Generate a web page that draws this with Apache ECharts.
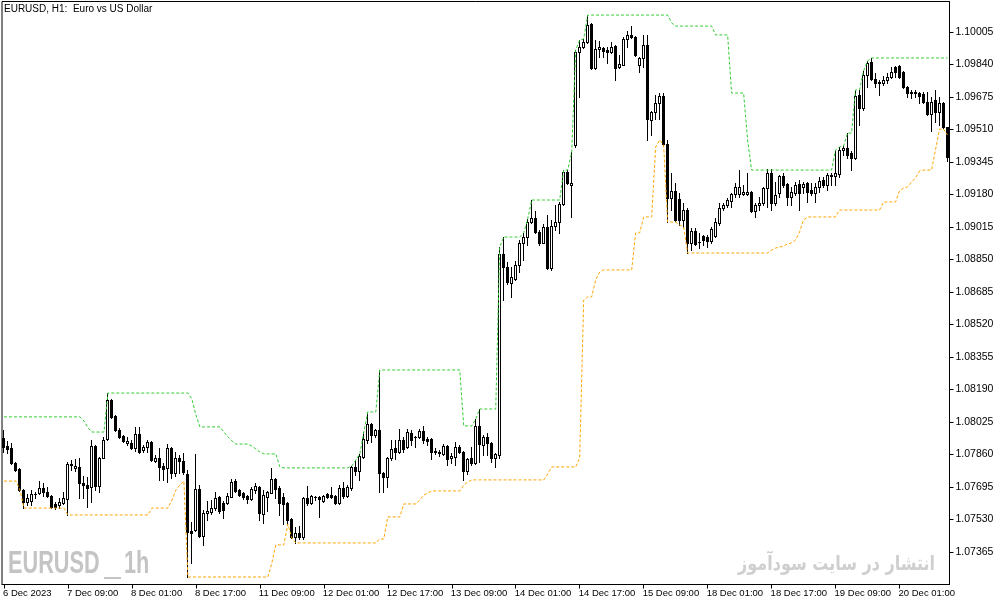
<!DOCTYPE html>
<html><head><meta charset="utf-8">
<script src="https://cdn.jsdelivr.net/npm/echarts@6/dist/echarts.min.js"></script>
<style>html,body{margin:0;padding:0;background:#fff}#c{width:1003px;height:605px}</style>
</head><body><div id="c"></div>
<script>
const tickLabels = ['6 Dec 2023','7 Dec 09:00','8 Dec 01:00','8 Dec 17:00','11 Dec 09:00','12 Dec 01:00','12 Dec 17:00','13 Dec 09:00','14 Dec 01:00','14 Dec 17:00','15 Dec 09:00','18 Dec 01:00','18 Dec 17:00','19 Dec 09:00','20 Dec 01:00'];
const priceTicks = [1.07365,1.07530,1.07695,1.07860,1.08025,1.08190,1.08355,1.08520,1.08685,1.08850,1.09015,1.09180,1.09345,1.09510,1.09675,1.09840,1.10005];

const open = [
1.07944,1.07903,1.07893,1.07817,1.07786,1.07680,1.07619,1.07624,1.07659,1.07664,
1.07690,1.07670,1.07649,1.07609,1.07604,1.07614,1.07634,1.07812,1.07792,1.07797,
1.07715,1.07705,1.07695,1.07903,1.07700,1.07842,1.07939,1.08137,1.08056,1.07984,
1.07954,1.07918,1.07918,1.07893,1.07964,1.07883,1.07898,1.07924,1.07827,1.07842,
1.07802,1.07792,1.07893,1.07766,1.07842,1.07827,1.07761,1.07472,1.07477,1.07685,
1.07447,1.07563,1.07568,1.07588,1.07644,1.07614,1.07614,1.07644,1.07725,1.07680,
1.07664,1.07649,1.07634,1.07680,1.07695,1.07558,1.07644,1.07664,1.07736,1.07690,
1.07644,1.07614,1.07533,1.07441,1.07462,1.07441,1.07639,1.07614,1.07644,1.07644,
1.07624,1.07659,1.07654,1.07649,1.07614,1.07690,1.07649,1.07690,1.07797,1.07776,
1.07847,1.07934,1.08015,1.07959,1.07984,1.07766,1.07746,1.07842,1.07893,1.07873,
1.07934,1.07898,1.07969,1.07949,1.07949,1.07979,1.07939,1.07939,1.07878,1.07873,
1.07863,1.07903,1.07842,1.07847,1.07898,1.07873,1.07776,1.07842,1.07817,1.08005,
1.07908,1.07949,1.07918,1.07842,1.07858,1.08878,1.08812,1.08731,1.08751,1.08822,
1.08934,1.08964,1.09040,1.09061,1.08990,1.08934,1.09015,1.08807,1.09020,1.09040,
1.09132,1.09294,1.09228,1.09431,1.09903,1.09929,1.09954,1.10046,1.09822,1.09919,
1.09924,1.09914,1.09903,1.09934,1.09827,1.09838,1.09970,1.09990,1.09980,1.09838,
1.09873,1.09939,1.09558,1.09599,1.09645,1.09680,1.09436,1.09162,1.09198,1.09157,
1.09051,1.09101,1.08934,1.08995,1.08939,1.08969,1.08964,1.08944,1.08969,1.09035,
1.09112,1.09127,1.09147,1.09183,1.09183,1.09183,1.09183,1.09193,1.09096,1.09127,
1.09137,1.09213,1.09289,1.09137,1.09188,1.09274,1.09233,1.09167,1.09188,1.09233,
1.09218,1.09238,1.09203,1.09188,1.09218,1.09254,1.09228,1.09279,1.09274,1.09284,
1.09406,1.09416,1.09391,1.09365,1.09685,1.09619,1.09787,1.09853,1.09766,1.09751,
1.09746,1.09761,1.09776,1.09827,1.09832,1.09802,1.09726,1.09700,1.09700,1.09695,
1.09690,1.09650,1.09589,1.09660,1.09599,1.09645,1.09523];

const close = [
1.07898,1.07888,1.07817,1.07781,1.07680,1.07619,1.07639,1.07659,1.07657,1.07690,
1.07670,1.07649,1.07594,1.07594,1.07619,1.07639,1.07812,1.07807,1.07802,1.07715,
1.07705,1.07690,1.07903,1.07700,1.07842,1.07934,1.08137,1.08051,1.07984,1.07949,
1.07929,1.07929,1.07893,1.07964,1.07873,1.07898,1.07924,1.07832,1.07842,1.07797,
1.07786,1.07893,1.07766,1.07842,1.07827,1.07771,1.07467,1.07462,1.07685,1.07447,
1.07563,1.07573,1.07588,1.07639,1.07573,1.07578,1.07649,1.07720,1.07675,1.07654,
1.07644,1.07634,1.07685,1.07700,1.07563,1.07654,1.07670,1.07736,1.07685,1.07614,
1.07609,1.07528,1.07441,1.07462,1.07441,1.07639,1.07614,1.07649,1.07643,1.07634,
1.07649,1.07644,1.07644,1.07614,1.07690,1.07649,1.07695,1.07797,1.07776,1.07852,
1.07939,1.08015,1.07959,1.07984,1.07766,1.07746,1.07842,1.07888,1.07873,1.07934,
1.07888,1.07974,1.07934,1.07947,1.07979,1.07934,1.07929,1.07873,1.07873,1.07868,
1.07903,1.07837,1.07852,1.07898,1.07873,1.07776,1.07837,1.07817,1.08005,1.07913,
1.07949,1.07918,1.07842,1.07863,1.08878,1.08812,1.08736,1.08761,1.08822,1.08934,
1.08964,1.09040,1.09061,1.08990,1.08934,1.09015,1.08807,1.09020,1.09040,1.09132,
1.09294,1.09238,1.09238,1.09903,1.09929,1.09954,1.10041,1.09822,1.09919,1.09929,
1.09909,1.09903,1.09929,1.09822,1.09843,1.09970,1.09990,1.09980,1.09888,1.09873,
1.09939,1.09563,1.09599,1.09645,1.09680,1.09436,1.09162,1.09198,1.09051,1.09051,
1.09101,1.08934,1.08995,1.08929,1.08937,1.08949,1.08944,1.09005,1.09040,1.09112,
1.09127,1.09152,1.09183,1.09218,1.09218,1.09193,1.09193,1.09096,1.09127,1.09137,
1.09213,1.09289,1.09137,1.09178,1.09274,1.09228,1.09167,1.09193,1.09228,1.09188,
1.09233,1.09193,1.09188,1.09218,1.09249,1.09228,1.09279,1.09274,1.09289,1.09406,
1.09416,1.09381,1.09365,1.09680,1.09619,1.09787,1.09848,1.09766,1.09746,1.09746,
1.09761,1.09776,1.09802,1.09802,1.09776,1.09726,1.09695,1.09695,1.09695,1.09680,
1.09650,1.09589,1.09650,1.09599,1.09645,1.09523,1.09370];

const low = [
1.07873,1.07868,1.07812,1.07776,1.07675,1.07588,1.07604,1.07604,1.07639,1.07659,
1.07649,1.07644,1.07588,1.07583,1.07588,1.07609,1.07553,1.07781,1.07776,1.07639,
1.07639,1.07594,1.07619,1.07680,1.07670,1.07842,1.07934,1.08046,1.07979,1.07944,
1.07924,1.07908,1.07888,1.07878,1.07868,1.07873,1.07873,1.07827,1.07822,1.07731,
1.07731,1.07720,1.07741,1.07751,1.07766,1.07761,1.07238,1.07309,1.07472,1.07441,
1.07401,1.07528,1.07558,1.07578,1.07563,1.07538,1.07609,1.07644,1.07670,1.07649,
1.07634,1.07614,1.07629,1.07664,1.07528,1.07512,1.07573,1.07664,1.07639,1.07553,
1.07507,1.07507,1.07436,1.07411,1.07431,1.07431,1.07604,1.07609,1.07629,1.07543,
1.07619,1.07639,1.07639,1.07609,1.07609,1.07639,1.07644,1.07680,1.07756,1.07731,
1.07842,1.07918,1.07924,1.07949,1.07670,1.07670,1.07695,1.07832,1.07837,1.07868,
1.07873,1.07893,1.07908,1.07898,1.07944,1.07918,1.07908,1.07837,1.07863,1.07852,
1.07858,1.07807,1.07817,1.07807,1.07868,1.07731,1.07761,1.07807,1.07812,1.07822,
1.07857,1.07857,1.07822,1.07797,1.07842,1.08644,1.08726,1.08660,1.08746,1.08786,
1.08848,1.08924,1.09035,1.08985,1.08924,1.08934,1.08802,1.08797,1.09000,1.08985,
1.09127,1.09233,1.09066,1.09421,1.09675,1.09924,1.09949,1.09817,1.09817,1.09878,
1.09878,1.09848,1.09898,1.09761,1.09822,1.09838,1.09929,1.09975,1.09883,1.09802,
1.09827,1.09457,1.09482,1.09563,1.09563,1.09431,1.09040,1.09101,1.09046,1.09025,
1.09015,1.08883,1.08898,1.08924,1.08908,1.08924,1.08913,1.08934,1.08964,1.09025,
1.09101,1.09117,1.09117,1.09167,1.09167,1.09178,1.09178,1.09091,1.09066,1.09101,
1.09127,1.09117,1.09101,1.09127,1.09167,1.09218,1.09127,1.09127,1.09178,1.09101,
1.09188,1.09142,1.09178,1.09142,1.09193,1.09218,1.09203,1.09228,1.09228,1.09269,
1.09381,1.09365,1.09304,1.09360,1.09533,1.09609,1.09726,1.09761,1.09726,1.09685,
1.09736,1.09746,1.09771,1.09776,1.09771,1.09721,1.09675,1.09670,1.09675,1.09645,
1.09645,1.09584,1.09502,1.09548,1.09533,1.09518,1.09350];

const high = [
1.07984,1.07929,1.07918,1.07822,1.07791,1.07685,1.07659,1.07680,1.07670,1.07725,
1.07715,1.07695,1.07654,1.07619,1.07639,1.07670,1.07822,1.07832,1.07837,1.07842,
1.07751,1.07746,1.07934,1.07908,1.07847,1.07949,1.08172,1.08142,1.08061,1.07995,
1.07959,1.07949,1.07934,1.08000,1.08000,1.07908,1.07934,1.07929,1.07857,1.07893,
1.07817,1.07913,1.07898,1.07873,1.07857,1.07868,1.07781,1.07517,1.07863,1.07705,
1.07578,1.07624,1.07629,1.07670,1.07649,1.07624,1.07664,1.07736,1.07736,1.07685,
1.07670,1.07654,1.07695,1.07715,1.07700,1.07680,1.07675,1.07791,1.07741,1.07700,
1.07664,1.07619,1.07538,1.07492,1.07497,1.07644,1.07700,1.07654,1.07649,1.07649,
1.07654,1.07664,1.07695,1.07654,1.07705,1.07720,1.07705,1.07802,1.07832,1.07863,
1.07974,1.08076,1.08020,1.07990,1.08289,1.07771,1.07847,1.07934,1.07934,1.07990,
1.07949,1.07990,1.07984,1.07954,1.07990,1.08005,1.07949,1.07944,1.07893,1.07883,
1.07913,1.07908,1.07868,1.07924,1.07908,1.07878,1.07842,1.07898,1.08040,1.08091,
1.07959,1.07969,1.07924,1.07868,1.08914,1.08964,1.08837,1.08812,1.08842,1.08949,
1.08985,1.09056,1.09152,1.09096,1.09000,1.09030,1.09076,1.09051,1.09127,1.09142,
1.09304,1.09304,1.09396,1.09914,1.09964,1.09970,1.10091,1.10051,1.09964,1.09959,
1.09929,1.09929,1.09954,1.09939,1.09888,1.09980,1.10010,1.10035,1.09985,1.09878,
1.09990,1.09990,1.09604,1.09685,1.09695,1.09695,1.09457,1.09289,1.09238,1.09188,
1.09137,1.09112,1.09010,1.09010,1.08985,1.08974,1.08974,1.09015,1.09061,1.09137,
1.09137,1.09162,1.09188,1.09238,1.09304,1.09228,1.09289,1.09198,1.09137,1.09167,
1.09218,1.09309,1.09309,1.09243,1.09279,1.09289,1.09238,1.09218,1.09243,1.09254,
1.09243,1.09243,1.09238,1.09238,1.09269,1.09269,1.09289,1.09289,1.09406,1.09421,
1.09426,1.09492,1.09401,1.09711,1.09711,1.09807,1.09858,1.09873,1.09797,1.09761,
1.09782,1.09797,1.09827,1.09832,1.09838,1.09807,1.09731,1.09711,1.09711,1.09700,
1.09700,1.09700,1.09675,1.09711,1.09675,1.09650,1.09523];

const upperBand = [
1.08051,1.08051,1.08051,1.08051,1.08051,1.08051,1.08051,1.08051,1.08051,1.08051,
1.08051,1.08051,1.08051,1.08051,1.08051,1.08051,1.08051,1.08051,1.08051,1.08051,
1.08030,1.07995,1.07974,1.07974,1.07974,1.07974,1.08172,1.08172,1.08172,1.08172,
1.08172,1.08172,1.08172,1.08172,1.08172,1.08172,1.08172,1.08172,1.08172,1.08172,
1.08172,1.08172,1.08172,1.08172,1.08172,1.08172,1.08172,1.08142,1.08061,1.08000,
1.08000,1.08000,1.08000,1.08000,1.08000,1.07974,1.07949,1.07929,1.07913,1.07913,
1.07913,1.07913,1.07903,1.07888,1.07873,1.07863,1.07863,1.07863,1.07863,1.07797,
1.07792,1.07792,1.07792,1.07792,1.07792,1.07792,1.07792,1.07792,1.07792,1.07792,
1.07792,1.07792,1.07792,1.07792,1.07792,1.07792,1.07792,1.07802,1.07832,1.07863,
1.07974,1.08076,1.08076,1.08076,1.08289,1.08289,1.08289,1.08289,1.08289,1.08289,
1.08289,1.08289,1.08289,1.08289,1.08289,1.08289,1.08289,1.08289,1.08289,1.08289,
1.08289,1.08289,1.08289,1.08289,1.08289,1.08005,1.08005,1.08005,1.08040,1.08091,
1.08091,1.08091,1.08091,1.08091,1.08914,1.08964,1.08964,1.08964,1.08964,1.08964,
1.08985,1.09056,1.09152,1.09152,1.09152,1.09152,1.09152,1.09152,1.09152,1.09152,
1.09304,1.09304,1.09396,1.09914,1.09964,1.09970,1.10091,1.10091,1.10091,1.10091,
1.10091,1.10091,1.10091,1.10091,1.10091,1.10091,1.10091,1.10091,1.10091,1.10091,
1.10091,1.10091,1.10091,1.10091,1.10091,1.10091,1.10091,1.10051,1.10035,1.10035,
1.10035,1.10035,1.10035,1.10035,1.10035,1.10035,1.10035,1.10035,1.09990,1.09990,
1.09990,1.09990,1.09695,1.09695,1.09695,1.09695,1.09457,1.09304,1.09304,1.09304,
1.09304,1.09304,1.09304,1.09304,1.09304,1.09304,1.09304,1.09304,1.09304,1.09304,
1.09304,1.09304,1.09304,1.09304,1.09304,1.09304,1.09304,1.09304,1.09406,1.09421,
1.09426,1.09492,1.09492,1.09711,1.09711,1.09807,1.09858,1.09873,1.09873,1.09873,
1.09873,1.09873,1.09873,1.09873,1.09873,1.09873,1.09873,1.09873,1.09873,1.09873,
1.09873,1.09873,1.09873,1.09873,1.09873,1.09873,1.09873];

const lowerBand = [
1.07725,1.07725,1.07725,1.07725,1.07680,1.07588,1.07588,1.07588,1.07588,1.07588,
1.07588,1.07588,1.07588,1.07588,1.07588,1.07588,1.07553,1.07553,1.07553,1.07553,
1.07553,1.07553,1.07553,1.07553,1.07553,1.07553,1.07553,1.07553,1.07553,1.07553,
1.07553,1.07553,1.07553,1.07553,1.07553,1.07553,1.07553,1.07588,1.07588,1.07588,
1.07588,1.07588,1.07629,1.07680,1.07705,1.07725,1.07238,1.07238,1.07238,1.07238,
1.07238,1.07238,1.07238,1.07238,1.07238,1.07238,1.07238,1.07238,1.07238,1.07238,
1.07238,1.07238,1.07238,1.07238,1.07238,1.07238,1.07238,1.07309,1.07401,1.07401,
1.07401,1.07507,1.07436,1.07411,1.07411,1.07411,1.07411,1.07411,1.07411,1.07411,
1.07411,1.07411,1.07411,1.07411,1.07411,1.07411,1.07411,1.07411,1.07411,1.07411,
1.07411,1.07411,1.07411,1.07411,1.07431,1.07431,1.07543,1.07543,1.07543,1.07543,
1.07609,1.07609,1.07609,1.07609,1.07629,1.07654,1.07664,1.07675,1.07675,1.07675,
1.07675,1.07675,1.07675,1.07675,1.07675,1.07705,1.07720,1.07731,1.07731,1.07731,
1.07731,1.07731,1.07731,1.07731,1.07731,1.07731,1.07731,1.07731,1.07731,1.07731,
1.07731,1.07731,1.07731,1.07731,1.07731,1.07731,1.07761,1.07797,1.07797,1.07797,
1.07797,1.07797,1.07797,1.07797,1.07842,1.08644,1.08660,1.08660,1.08746,1.08786,
1.08797,1.08797,1.08797,1.08797,1.08797,1.08797,1.08797,1.08797,1.08985,1.08985,
1.09066,1.09066,1.09066,1.09421,1.09457,1.09431,1.09040,1.09040,1.09040,1.09025,
1.09015,1.08883,1.08883,1.08883,1.08883,1.08883,1.08883,1.08883,1.08883,1.08883,
1.08883,1.08883,1.08883,1.08883,1.08883,1.08883,1.08883,1.08883,1.08883,1.08883,
1.08883,1.08883,1.08898,1.08908,1.08913,1.08918,1.08929,1.08934,1.08949,1.08990,
1.09051,1.09066,1.09066,1.09066,1.09066,1.09066,1.09066,1.09066,1.09066,1.09101,
1.09101,1.09101,1.09101,1.09101,1.09101,1.09101,1.09101,1.09101,1.09101,1.09101,
1.09142,1.09142,1.09142,1.09142,1.09198,1.09213,1.09218,1.09243,1.09264,1.09299,
1.09304,1.09304,1.09304,1.09406,1.09512,1.09512,1.09482];

// hourly bar times (broker time, weekends closed), starting 6 Dec 2023 17:00
const MONTHS = ['Jan','Feb','Mar','Apr','May','Jun','Jul','Aug','Sep','Oct','Nov','Dec'];
const categories = [];
(function(){
  let t = Date.UTC(2023, 11, 6, 17);
  while (categories.length < open.length) {
    const d = new Date(t);
    const wd = d.getUTCDay();
    if (wd !== 0 && wd !== 6) {
      categories.push(d.getUTCDate() + ' ' + MONTHS[d.getUTCMonth()] + ' ' + String(d.getUTCHours()).padStart(2,'0') + ':00');
    }
    t += 3600000;
  }
})();

const ohlc = open.map((o, i) => [i, o, close[i], low[i], high[i]]);

function renderCandle(params, api) {
  const i = api.value(0);
  const o = api.value(1), c = api.value(2), l = api.value(3), h = api.value(4);
  const pO = api.coord([i, o]), pC = api.coord([i, c]);
  const pL = api.coord([i, l]), pH = api.coord([i, h]);
  const px = Math.floor(pO[0]);
  const yO = Math.round(pO[1]), yC = Math.round(pC[1]);
  const yL = Math.round(pL[1]), yH = Math.round(pH[1]);
  const children = [{
    type: 'rect', shape: {x: px, y: yH, width: 1, height: Math.max(1, yL - yH + 1)},
    style: {fill: '#000'}
  }];
  if (c > o) {
    const hgt = yO - yC;
    if (hgt >= 2) {
      children.push({type: 'rect', shape: {x: px - 1, y: yC, width: 3, height: hgt + 1}, style: {fill: '#000'}});
      children.push({type: 'rect', shape: {x: px, y: yC + 1, width: 1, height: hgt - 1}, style: {fill: '#fff'}});
    } else {
      children.push({type: 'rect', shape: {x: px - 1, y: yC, width: 3, height: hgt + 1}, style: {fill: '#000'}});
    }
  } else {
    const top = Math.min(yO, yC), bot = Math.max(yO, yC);
    children.push({type: 'rect', shape: {x: px - 1, y: top, width: 3, height: bot - top + 1}, style: {fill: '#000'}});
  }
  return {type: 'group', children: children};
}

const chart = echarts.init(document.getElementById('c'), null, {renderer: 'canvas'});
const FONT = '"Liberation Sans", Arial, sans-serif';
chart.setOption({
  animation: false,
  backgroundColor: '#ffffff',
  grid: {left: 1.5, right: 53.5, top: 1.5, bottom: 20.5, show: true, borderColor: '#000', borderWidth: 1, backgroundColor: '#fff'},
  xAxis: {
    type: 'category', data: categories, boundaryGap: true,
    axisLine: {show: true, lineStyle: {color: '#000', width: 1}},
    axisTick: {show: true, alignWithLabel: true, interval: 15, length: 4, lineStyle: {color: '#000'}},
    axisLabel: {interval: 15, align: 'left', margin: 4, color: '#000', fontSize: 9.5, fontFamily: FONT, padding: [0, 0, 0, -1],
      formatter: (v, i) => tickLabels[Math.round(i / 16)] || ''},
    splitLine: {show: false}
  },
  yAxis: {
    type: 'value', position: 'right', min: 1.072, max: 1.101598, scale: true,
    axisLine: {show: true, lineStyle: {color: '#000', width: 1}},
    axisTick: {show: true, length: 4, lineStyle: {color: '#000'}, customValues: priceTicks},
    axisLabel: {color: '#000', fontSize: 10.5, fontFamily: FONT, margin: 6, customValues: priceTicks,
      formatter: v => v.toFixed(5)},
    splitLine: {show: false}
  },
  graphic: [
    {type: 'text', x: 4, y: 4, z: 10, style: {text: 'EURUSD, H1:  Euro vs US Dollar', fill: '#000', font: '10px ' + FONT}},
    {type: 'text', x: 8, y: 549, scaleX: 0.7, z: 1, style: {text: 'EURUSD', fill: '#c4c4c4', font: 'bold 31px ' + FONT}},
    {type: 'rect', x: 104, y: 577, z: 1, shape: {width: 17, height: 2}, style: {fill: '#c4c4c4'}},
    {type: 'text', x: 124, y: 549, scaleX: 0.7, z: 1, style: {text: '1h', fill: '#c4c4c4', font: 'bold 31px ' + FONT}},
    {type: 'text', x: 935, y: 565, scaleX: 0.8, z: 1, style: {text: 'انتشار در سایت سودآموز', fill: '#cfcfcf', font: 'bold 20px "DejaVu Sans", sans-serif', textAlign: 'right', textVerticalAlign: 'middle'}}
  ],
  series: [
    {type: 'custom', name: 'EURUSD', data: ohlc, renderItem: renderCandle,
      encode: {x: 0, y: [1, 2, 3, 4]}, clip: true},
    {type: 'line', data: upperBand, symbol: 'none', silent: true, z: 3,
      lineStyle: {color: '#32cd32', width: 1, type: [3, 2]}},
    {type: 'line', data: lowerBand, symbol: 'none', silent: true, z: 3,
      lineStyle: {color: '#ffa500', width: 1, type: [3, 2]}}
  ]
});
</script></body></html>
